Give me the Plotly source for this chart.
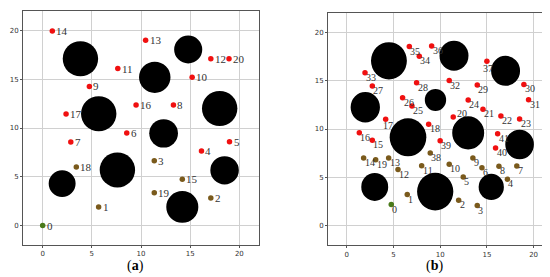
import plotly.graph_objects as go

# ---------- panel (a) ----------
a_obs_x = [3.84, 14.8, 11.4, 18.0, 5.7, 12.3, 7.6, 1.98, 18.5, 14.2]
a_obs_y = [17.1, 18.05, 15.2, 12.0, 11.46, 9.45, 5.7, 4.3, 5.66, 1.9]
a_obs_r = [1.8, 1.43, 1.6, 1.8, 1.8, 1.46, 1.8, 1.37, 1.45, 1.63]

a_labels = list(range(21))
a_x = [0, 5.69, 17.1, 11.35, 16.15, 19.0, 8.55, 2.86, 13.3, 4.75, 15.2,
       7.64, 17.1, 10.47, 0.98, 14.2, 9.5, 2.38, 3.42, 11.35, 18.95]
a_y = [0, 1.91, 2.83, 6.65, 7.65, 8.6, 9.49, 8.56, 12.35, 14.26, 15.2,
       16.1, 17.1, 19.0, 19.96, 4.74, 12.35, 11.43, 6.0, 3.35, 17.1]
a_kind = ["s", "b", "b", "b", "r", "r", "r", "r", "r", "r", "r",
          "r", "r", "r", "r", "b", "r", "r", "b", "b", "r"]

# ---------- panel (b) ----------
b_obs_x = [4.52, 11.48, 17.0, 1.99, 9.5, 6.56, 13.0, 18.5, 3.0, 9.47, 15.47]
b_obs_y = [17.04, 17.56, 16.0, 12.24, 13.0, 9.14, 9.6, 8.4, 4.02, 3.54, 4.02]
b_obs_r = [1.92, 1.55, 1.55, 1.57, 1.14, 1.96, 1.71, 1.53, 1.44, 1.94, 1.35]

b_labels = list(range(42))
b_x = [4.77, 6.48, 11.98, 13.97, 17.2, 12.47, 14.47, 18.2, 16.29, 13.5, 10.97,
       8.02, 5.49, 4.49, 1.81, 2.74, 1.35, 4.17, 8.77, 3.1, 11.4,
       14.58, 16.5, 18.5, 13.0, 6.98, 5.98, 2.74, 7.48, 13.97, 18.96,
       19.46, 10.97, 1.96, 7.77, 6.7, 9.09, 15.0, 8.94, 10.0, 15.93, 16.15]
b_y = [2.2, 3.23, 2.65, 2.1, 4.81, 5.05, 6.0, 6.19, 6.15, 7.0, 6.36,
       6.22, 5.81, 7.0, 7.0, 8.83, 9.62, 11.0, 10.5, 6.84, 11.24,
       12.03, 11.34, 11.03, 13.0, 12.37, 13.23, 14.43, 14.78, 14.54, 14.6,
       13.02, 15.0, 15.8, 17.5, 18.5, 18.56, 17.0, 7.52, 8.8, 8.04, 9.52]
b_kind = ["s"] + ["b"] * 14 + ["r", "r", "r", "r", "b"] + ["r"] * 18 + ["b", "r", "r", "r"]

ticks = [0, 5, 10, 15, 20]
panel_names = ["(<b>a</b>)", "(<b>b</b>)"]

COL = {"r": "#f01010", "b": "#7a5a1c", "s": "#4a7a1a"}
# label placement style (anchor, xshift, yshift) for labels that sit differently
B_LABEL_STYLE = {20: ("middle", 3, 3), 17: ("top", -4, 0), 37: ("top", -5, -1)}

fig = go.Figure()


def add_points(xs, ys, kinds, xa, ya):
    for k in ["b", "r", "s"]:
        idx = [i for i, kk in enumerate(kinds) if kk == k]
        fig.add_trace(go.Scatter(
            x=[xs[i] for i in idx], y=[ys[i] for i in idx],
            mode="markers", marker=dict(size=5.5, color=COL[k]),
            xaxis=xa, yaxis=ya, showlegend=False, cliponaxis=False))


def add_labels(xs, ys, labels, xref, yref, yanchor, xshift, yshift, size, special=None):
    special = special or {}
    for x, y, t in zip(xs, ys, labels):
        ya, xs_, ys_ = special.get(t, (yanchor, xshift, yshift))
        fig.add_annotation(x=x, y=y, xref=xref, yref=yref, text=str(t), showarrow=False,
                           xanchor="left", yanchor=ya, xshift=xs_, yshift=ys_,
                           borderpad=0,
                           font=dict(family="Liberation Serif", size=size, color="#333333"))


def add_obs(cx, cy, rr, xref, yref):
    for x, y, r in zip(cx, cy, rr):
        fig.add_shape(type="circle", xref=xref, yref=yref,
                      x0=x - r, x1=x + r, y0=y - r, y1=y + r,
                      fillcolor="black", line=dict(width=0), layer="between")


add_obs(a_obs_x, a_obs_y, a_obs_r, "x", "y")
add_obs(b_obs_x, b_obs_y, b_obs_r, "x2", "y2")
add_points(a_x, a_y, a_kind, "x", "y")
add_points(b_x, b_y, b_kind, "x2", "y2")
add_labels(a_x, a_y, a_labels, "x", "y", "middle", 3, 0, 11)
add_labels(b_x, b_y, b_labels, "x2", "y2", "top", 0, 2, 10, B_LABEL_STYLE)

ax_common = dict(range=[-2, 22], tickvals=ticks, showgrid=True, gridcolor="#d0d0d0",
                 gridwidth=1, zeroline=False, showline=True, mirror=True,
                 linecolor="#555555", linewidth=1, ticks="outside", ticklen=2,
                 tickcolor="#555555",
                 tickfont=dict(family="DejaVu Sans", size=7, color="#333333"))

fig.update_layout(
    width=550, height=277, margin=dict(l=0, r=0, t=0, b=0),
    paper_bgcolor="white", plot_bgcolor="white",
    xaxis=dict(domain=[15 / 550, 251 / 550], anchor="y", **ax_common),
    yaxis=dict(domain=[1 - 237 / 277, 1 - 3 / 277], anchor="x", **ax_common),
    xaxis2=dict(domain=[320 / 550, 544.3 / 550], anchor="y2", **ax_common),
    yaxis2=dict(domain=[1 - 237.3 / 277, 1 - 4.7 / 277], anchor="x2", **ax_common),
)

for name, cx in zip(panel_names, [127.7, 426.7]):
    fig.add_annotation(text=name, x=cx / 550, y=1 - 258 / 277, xref="paper", yref="paper",
                       xanchor="center", yanchor="middle", showarrow=False,
                       font=dict(family="Liberation Serif", size=14, color="black"))

fig.write_html("out.html")
